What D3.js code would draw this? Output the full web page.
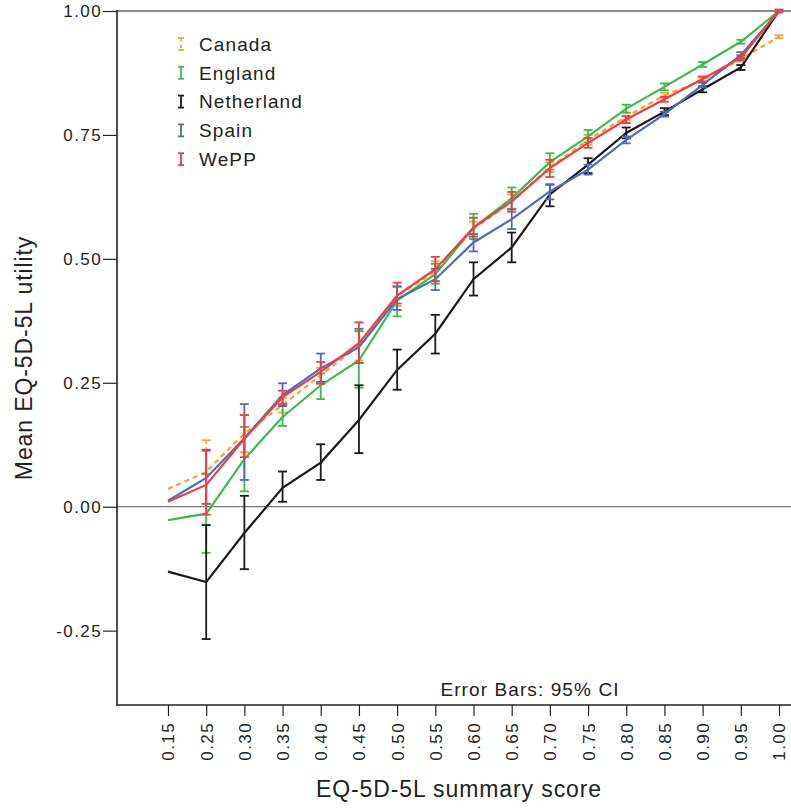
<!DOCTYPE html>
<html><head><meta charset="utf-8">
<script src="https://cdn.jsdelivr.net/npm/d3@7"></script>
<style>
html,body{margin:0;padding:0;background:#fff;}
svg{display:block;font-family:"Liberation Sans",Arial,sans-serif;}
</style></head>
<body><svg id="c" width="791" height="809"></svg>
<script>
const categories = ["0.15","0.25","0.30","0.35","0.40","0.45","0.50","0.55","0.60","0.65","0.70","0.75","0.80","0.85","0.90","0.95","1.00"];
const yTicks = [-0.25, 0.00, 0.25, 0.50, 0.75, 1.00];
const seriesNames = ["Canada","England","Netherland","Spain","WePP"];
const seriesColors = ["#f7a13a","#3cbb4c","#1a1a1a","#4d6cc0","#ee3d43"];

const canadaMean = [0.036,0.070,0.148,0.205,0.265,0.325,0.425,0.475,0.560,0.615,0.685,0.740,0.787,0.830,0.860,0.903,0.948];
const canadaLo   = [null,0.005,0.110,0.190,0.250,0.295,0.405,0.455,0.545,0.600,0.675,0.730,0.780,0.825,0.855,0.898,0.945];
const canadaHi   = [null,0.134,0.185,0.220,0.280,0.355,0.445,0.495,0.575,0.630,0.695,0.750,0.795,0.835,0.865,0.908,0.951];

const englandMean = [-0.027,-0.014,0.096,0.181,0.245,0.295,0.416,0.469,0.563,0.622,0.695,0.747,0.803,0.847,0.892,0.938,1.000];
const englandLo   = [null,-0.093,0.031,0.163,0.217,0.240,0.384,0.450,0.540,0.600,0.680,0.735,0.795,0.840,0.887,0.934,null];
const englandHi   = [null,0.066,0.161,0.205,0.269,0.354,0.444,0.490,0.591,0.644,0.713,0.760,0.811,0.854,0.897,0.942,null];

const netherlandMean = [-0.131,-0.152,-0.053,0.038,0.089,0.175,0.276,0.349,0.459,0.523,0.630,0.690,0.754,0.797,0.842,0.886,1.000];
const netherlandLo   = [null,-0.267,-0.126,0.010,0.054,0.108,0.236,0.309,0.426,0.493,0.606,0.673,0.743,0.790,0.836,0.881,null];
const netherlandHi   = [null,-0.037,0.022,0.071,0.126,0.245,0.317,0.387,0.493,0.553,0.650,0.703,0.765,0.804,0.848,0.891,null];

const spainMean = [0.012,0.058,0.138,0.225,0.279,0.322,0.419,0.459,0.533,0.580,0.636,0.680,0.740,0.792,0.851,0.911,1.000];
const spainLo   = [null,0.006,0.054,0.203,0.252,0.290,0.397,0.437,0.515,0.560,0.620,0.670,0.733,0.787,0.846,0.905,null];
const spainHi   = [null,0.115,0.207,0.249,0.309,0.359,0.444,0.480,0.550,0.600,0.650,0.690,0.747,0.797,0.856,0.917,null];

const weppMean = [0.010,0.044,0.137,0.221,0.272,0.330,0.426,0.479,0.563,0.616,0.683,0.734,0.781,0.822,0.863,0.906,1.000];
const weppLo   = [null,-0.016,0.100,0.207,0.248,0.290,0.410,0.455,0.545,0.595,0.665,0.724,0.774,0.817,0.858,0.901,0.997];
const weppHi   = [null,0.113,0.185,0.234,0.292,0.372,0.452,0.504,0.583,0.635,0.700,0.744,0.788,0.827,0.868,0.911,1.003];

const series = [
  {name:seriesNames[0], color:seriesColors[0], mean:canadaMean, lo:canadaLo, hi:canadaHi, dash:"5,4"},
  {name:seriesNames[1], color:seriesColors[1], mean:englandMean, lo:englandLo, hi:englandHi, dash:null},
  {name:seriesNames[2], color:seriesColors[2], mean:netherlandMean, lo:netherlandLo, hi:netherlandHi, dash:null},
  {name:seriesNames[3], color:seriesColors[3], mean:spainMean, lo:spainLo, hi:spainHi, dash:null},
  {name:seriesNames[4], color:seriesColors[4], mean:weppMean, lo:weppLo, hi:weppHi, dash:null}
];

const svg = d3.select("#c");
const mLeft = 117, mTop = 11, mBottom = 705, mRight = 791;

const x = d3.scalePoint().domain(categories).range([168, 779]);
const y = d3.scaleLinear().domain([-0.4, 1.0]).range([mBottom, mTop]);

// frame top (gray) and zero line
svg.append("line").attr("x1", mLeft).attr("x2", mRight).attr("y1", y(1)).attr("y2", y(1))
  .attr("stroke", "#8a8a8a").attr("stroke-width", 2);
svg.append("line").attr("x1", mLeft).attr("x2", mRight).attr("y1", y(0)).attr("y2", y(0))
  .attr("stroke", "#7a7a7a").attr("stroke-width", 1.2);

// series
const line = d3.line().x((d,i)=>x(categories[i])).y(d=>y(d));
series.forEach(s => {
  const g = svg.append("g");
  s.mean.forEach((m,i) => {
    if (s.lo[i] == null || s.hi[i] == null) return;
    const cx = x(categories[i]);
    const eb = g.append("g").attr("stroke", s.color).attr("stroke-width", 1.8).attr("fill","none");
    eb.append("line").attr("x1",cx).attr("x2",cx).attr("y1",y(s.lo[i])).attr("y2",y(s.hi[i]))
      .attr("stroke-dasharray", s.dash ? "3,3" : null);
    eb.append("line").attr("x1",cx-4.5).attr("x2",cx+4.5).attr("y1",y(s.lo[i])).attr("y2",y(s.lo[i]));
    eb.append("line").attr("x1",cx-4.5).attr("x2",cx+4.5).attr("y1",y(s.hi[i])).attr("y2",y(s.hi[i]));
  });
  g.append("path").datum(s.mean).attr("d", line).attr("fill","none")
    .attr("stroke", s.color).attr("stroke-width", 2.2)
    .attr("stroke-dasharray", s.dash);
});

// axes
const yAxis = d3.axisLeft(y).tickValues(yTicks).tickFormat(d => d.toFixed(2)).tickSize(14).tickPadding(1);
const ya = svg.append("g").attr("transform", `translate(${mLeft},0)`).call(yAxis);
ya.select(".domain").remove();
ya.selectAll(".tick line").attr("stroke","#222").attr("stroke-width",1.2);
ya.selectAll("text").attr("font-size", 17).attr("letter-spacing", "1.4px").attr("fill","#222")
  .attr("font-family","Liberation Sans, Arial, sans-serif");
svg.append("line").attr("x1",mLeft).attr("x2",mLeft).attr("y1",mTop-1).attr("y2",mBottom+1)
  .attr("stroke","#222").attr("stroke-width",1.6);

const xAxis = d3.axisBottom(x).tickSize(11).tickPadding(0);
const xa = svg.append("g").attr("transform", `translate(0,${mBottom})`).call(xAxis);
xa.select(".domain").remove();
xa.selectAll(".tick line").attr("stroke","#222").attr("stroke-width",1.2);
xa.selectAll("text").attr("font-size", 17).attr("letter-spacing", "1.4px").attr("fill","#222")
  .attr("font-family","Liberation Sans, Arial, sans-serif")
  .attr("transform","rotate(-90)").attr("text-anchor","end")
  .attr("x", -17).attr("y", 0).attr("dy","0.35em");
svg.append("line").attr("x1",mLeft).attr("x2",mRight).attr("y1",mBottom).attr("y2",mBottom)
  .attr("stroke","#222").attr("stroke-width",1.6);

// titles
svg.append("text").attr("x", 459).attr("y", 797).attr("text-anchor","middle")
  .attr("font-size", 23).attr("letter-spacing","0.9px").attr("fill","#222").text("EQ-5D-5L summary score");
svg.append("text").attr("transform","translate(32,358) rotate(-90)").attr("text-anchor","middle")
  .attr("font-size", 23).attr("letter-spacing","0.9px").attr("fill","#222").text("Mean EQ-5D-5L utility");
svg.append("text").attr("x", 530).attr("y", 696).attr("text-anchor","middle")
  .attr("font-size", 19).attr("letter-spacing","1.1px").attr("fill","#222").text("Error Bars: 95% CI");

// legend
const lg = svg.append("g");
series.forEach((s,i) => {
  const ly = 44 + i*28.8;
  const ix = 181;
  const ig = lg.append("g").attr("stroke", s.color).attr("stroke-width", 1.8);
  ig.append("line").attr("x1",ix).attr("x2",ix).attr("y1",ly-6).attr("y2",ly+6)
    .attr("stroke-dasharray", s.dash ? "3,4" : null);
  ig.append("line").attr("x1",ix-3).attr("x2",ix+3).attr("y1",ly-6).attr("y2",ly-6);
  ig.append("line").attr("x1",ix-3).attr("x2",ix+3).attr("y1",ly+6).attr("y2",ly+6);
  lg.append("text").attr("x", 199).attr("y", ly).attr("dy","0.36em")
    .attr("font-size", 19).attr("letter-spacing","1.1px").attr("fill","#222").text(s.name);
});
</script></body></html>
